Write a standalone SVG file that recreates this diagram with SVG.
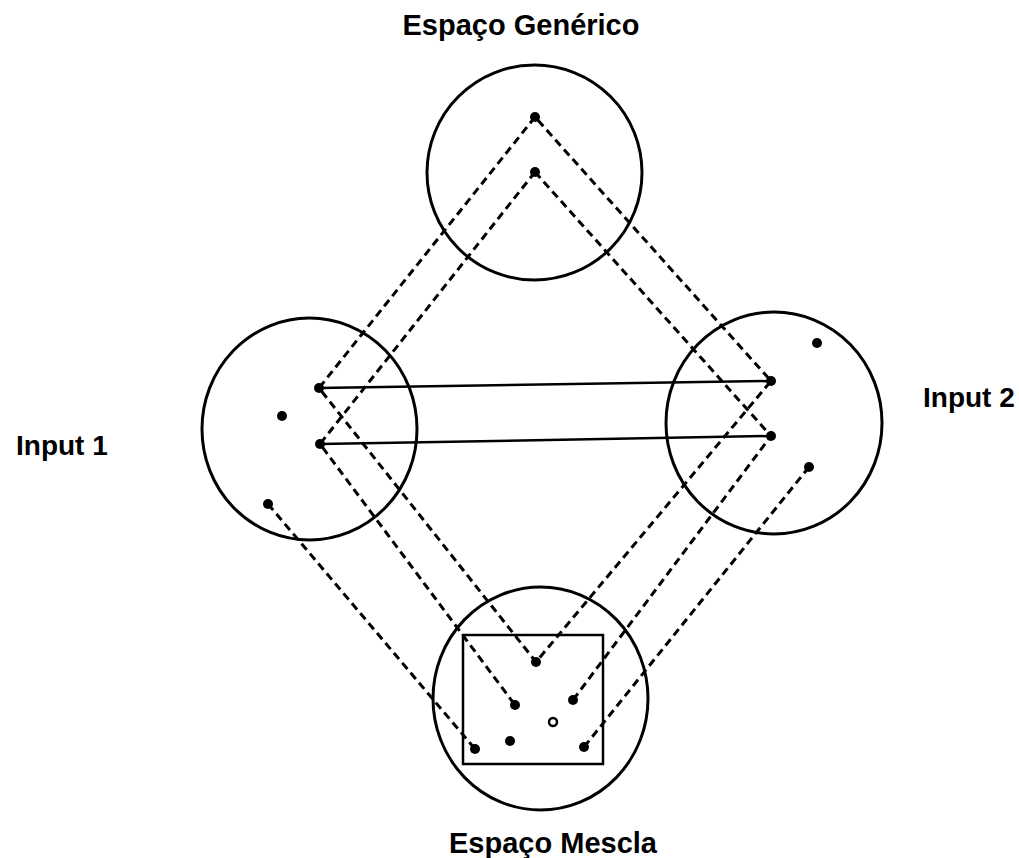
<svg xmlns="http://www.w3.org/2000/svg" width="1019" height="858" viewBox="0 0 1019 858">
<style>
.c{fill:none;stroke:#000;stroke-width:3}
.d{fill:none;stroke:#000;stroke-width:3;stroke-dasharray:8 5}
.s{fill:none;stroke:#000;stroke-width:2.5}
.p{fill:#000}
.t{font-family:"Liberation Sans",Arial,sans-serif;font-weight:bold;fill:#000}
</style>
<rect width="1019" height="858" fill="#fff"/>
<g id="connectors">
<path class="d" d="M535,117 L319,388 L536,662 L771,381 Z"/>
<path class="d" d="M535,172 L320,444 L515,705"/>
<path class="d" d="M535,172 L771,436 L573,700"/>
<path class="d" d="M268,504 L475,749"/>
<path class="d" d="M809,467 L584,747"/>
<line class="s" x1="319" y1="388" x2="771" y2="381"/>
<line class="s" x1="320" y1="444" x2="771" y2="436"/>
</g>
<g id="generic">
<circle class="c" cx="534.5" cy="172.5" r="107.5"/>
<circle class="p" cx="535" cy="117" r="5"/>
<circle class="p" cx="535" cy="172" r="5"/>
<text class="t" x="521" y="35" font-size="29" text-anchor="middle">Espaço Genérico</text>
</g>
<g id="input1">
<ellipse class="c" cx="309.5" cy="429" rx="107.5" ry="111"/>
<circle class="p" cx="319" cy="388" r="5"/>
<circle class="p" cx="320" cy="444" r="5"/>
<circle class="p" cx="282" cy="416" r="5"/>
<circle class="p" cx="268" cy="504" r="5"/>
<text class="t" x="16" y="455" font-size="28">Input 1</text>
</g>
<g id="input2">
<ellipse class="c" cx="774" cy="423" rx="108" ry="111"/>
<circle class="p" cx="771" cy="381" r="5"/>
<circle class="p" cx="771" cy="436" r="5"/>
<circle class="p" cx="817" cy="343" r="5"/>
<circle class="p" cx="809" cy="467" r="5"/>
<text class="t" x="923" y="407" font-size="28">Input 2</text>
</g>
<g id="blend">
<ellipse class="c" cx="540.5" cy="698.5" rx="107.5" ry="111.5"/>
<rect class="s" x="463" y="635" width="140" height="129"/>
<circle class="p" cx="536" cy="662" r="5"/>
<circle class="p" cx="515" cy="705" r="5"/>
<circle class="p" cx="573" cy="700" r="5"/>
<circle fill="none" stroke="#000" stroke-width="2.5" cx="553" cy="722" r="4"/>
<circle class="p" cx="510" cy="741" r="5"/>
<circle class="p" cx="475" cy="749" r="5"/>
<circle class="p" cx="584" cy="747" r="5"/>
<text class="t" x="553" y="853" font-size="29" text-anchor="middle">Espaço Mescla</text>
</g>
</svg>
